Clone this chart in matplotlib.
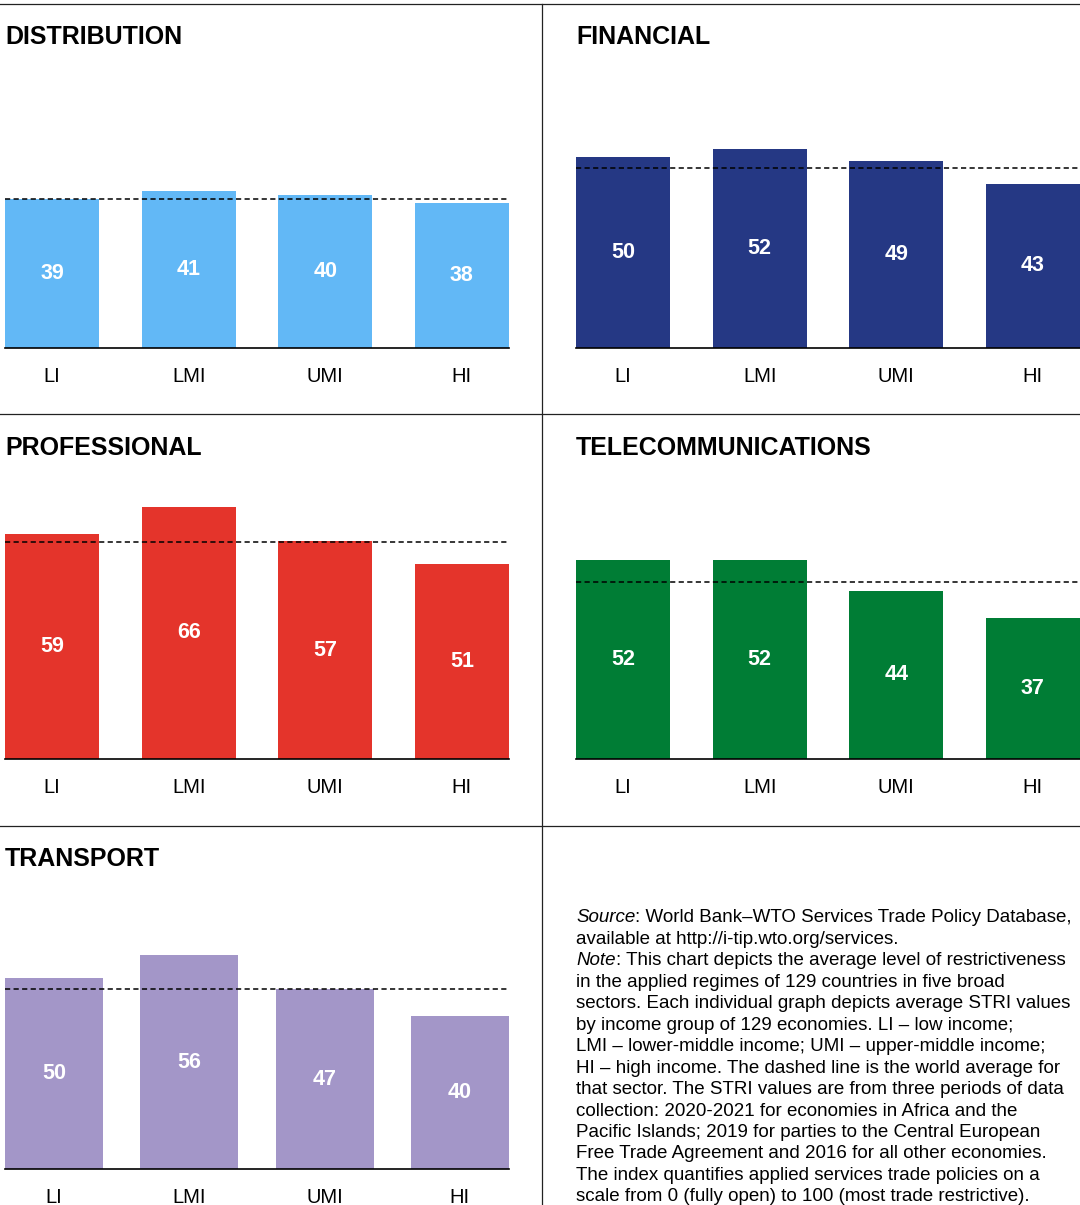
import matplotlib
matplotlib.use("Agg")
import matplotlib.pyplot as plt
from matplotlib.lines import Line2D

plt.rcParams['font.family'] = ['Liberation Sans', 'DejaVu Sans']

# data
groups = ["LI", "LMI", "UMI", "HI"]
distribution = [39, 41, 40, 38]
financial = [50, 52, 49, 43]
professional = [59, 66, 57, 51]
telecom = [52, 52, 44, 37]
transport = [50, 56, 47, 40]
# world averages (dashed lines)
world_avg = [38.9, 47.0, 56.7, 46.3, 47.2]
sector_names = ["DISTRIBUTION", "FINANCIAL", "PROFESSIONAL",
                "TELECOMMUNICATIONS", "TRANSPORT"]
sector_colors = ["#62B8F6", "#253884", "#E4342B", "#007D35", "#A396C8"]

note_lines = [
    ("Source", ": World Bank\u2013WTO Services Trade Policy Database,"),
    ("", "available at http://i-tip.wto.org/services."),
    ("Note", ": This chart depicts the average level of restrictiveness"),
    ("", "in the applied regimes of 129 countries in five broad"),
    ("", "sectors. Each individual graph depicts average STRI values"),
    ("", "by income group of 129 economies. LI \u2013 low income;"),
    ("", "LMI \u2013 lower-middle income; UMI \u2013 upper-middle income;"),
    ("", "HI \u2013 high income. The dashed line is the world average for"),
    ("", "that sector. The STRI values are from three periods of data"),
    ("", "collection: 2020-2021 for economies in Africa and the"),
    ("", "Pacific Islands; 2019 for parties to the Central European"),
    ("", "Free Trade Agreement and 2016 for all other economies."),
    ("", "The index quantifies applied services trade policies on a"),
    ("", "scale from 0 (fully open) to 100 (most trade restrictive)."),
]

W, H = 1080, 1205
fig = plt.figure(figsize=(W / 100, H / 100), dpi=100)


def fx(px):
    return px / W


def fy(py):
    return 1 - py / H


px_per_unit = 3.82
ymax = 70
col_x = [(5, 509), (576, 1080)]
row_base = [348, 759, 1169]
row_title = [37, 448, 859]
bar_widths = [0.69, 0.69, 0.69, 0.69, 0.726]

series = [distribution, financial, professional, telecom, transport]
for k, vals in enumerate(series):
    row, col = divmod(k, 2)
    x0, x1 = col_x[col]
    base = row_base[row]
    h = ymax * px_per_unit
    ax = fig.add_axes([fx(x0), fy(base), fx(x1 - x0), h / H])
    bw = bar_widths[k]
    xs = list(range(len(groups)))
    ax.bar(xs, vals, width=bw, color=sector_colors[k], zorder=2)
    ax.axhline(world_avg[k], color="black", lw=1.1,
               ls=(0, (3.4, 2.2)), zorder=3)
    for x, v in zip(xs, vals):
        ax.text(x, v / 2, str(v), ha="center", va="center",
                color="white", fontsize=15.5, fontweight="bold", zorder=4)
    ax.set_xlim(-bw / 2, len(groups) - 1 + bw / 2)
    ax.set_ylim(0, ymax)
    ax.set_xticks(xs)
    ax.set_xticklabels(groups, fontsize=14.5)
    ax.tick_params(axis="x", length=0, pad=13.5)
    ax.set_yticks([])
    for s in ["top", "left", "right"]:
        ax.spines[s].set_visible(False)
    ax.spines["bottom"].set_linewidth(1.2)
    ax.spines["bottom"].set_color("black")
    fig.text(fx(x0), fy(row_title[row]), sector_names[k],
             fontsize=18, fontweight="bold", va="center", ha="left")

# panel separators
for y in [4, 414, 826]:
    fig.add_artist(Line2D([fx(0), fx(W)], [fy(y), fy(y)],
                          color="#222222", lw=0.9))
fig.add_artist(Line2D([fx(542), fx(542)], [fy(4), fy(H)],
                      color="#222222", lw=0.9))

# source / note block
renderer = fig.canvas.get_renderer()
note_x = 576
note_y0 = 918
line_step = 21.45
note_size = 13.5
for i, (ital, rest) in enumerate(note_lines):
    y = fy(note_y0 + i * line_step)
    x = fx(note_x)
    if ital:
        t = fig.text(x, y, ital, fontsize=note_size, style="italic",
                     va="center", ha="left")
        bb = t.get_window_extent(renderer=renderer)
        x = bb.x1 / W
    fig.text(x, y, rest, fontsize=note_size, va="center", ha="left")

fig.savefig("out.png", dpi=100)
